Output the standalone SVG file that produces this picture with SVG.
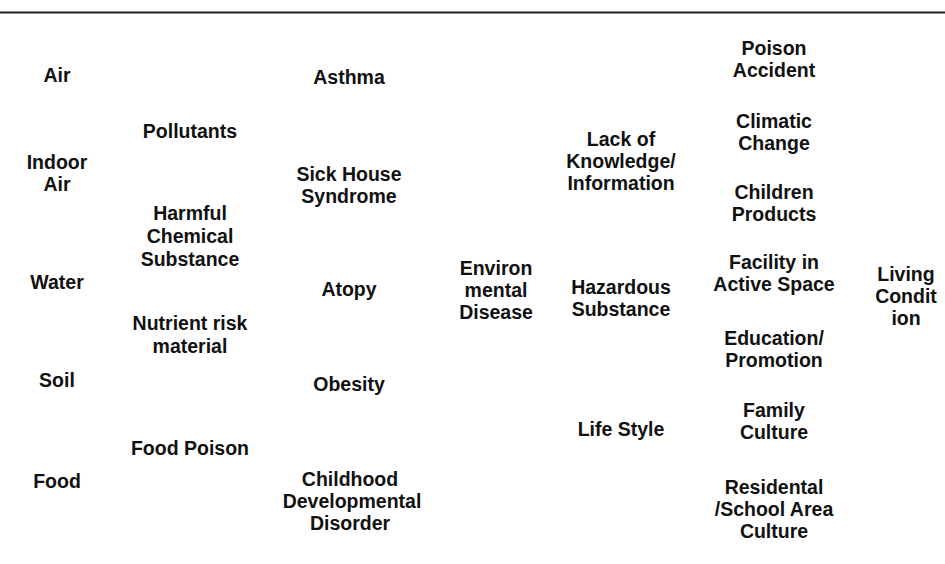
<svg xmlns="http://www.w3.org/2000/svg" width="945" height="564" viewBox="0 0 945 564">
<style>
text{font-family:"Liberation Sans",Arial,sans-serif;font-size:19.5px;font-weight:700;fill:#111;text-anchor:middle}
.rule{stroke:#222;stroke-width:2}
</style>
<rect width="945" height="564" fill="#fff"/>
<line class="rule" x1="0" y1="12.5" x2="945" y2="12.5"/>
<g id="connectors"/>
<g id="air"><text x="57" y="82">Air</text></g>
<g id="indoor-air"><text x="57" y="169">Indoor<tspan x="57" dy="22">Air</tspan></text></g>
<g id="water"><text x="57" y="289">Water</text></g>
<g id="soil"><text x="57" y="387">Soil</text></g>
<g id="food"><text x="57" y="488">Food</text></g>
<g id="pollutants"><text x="190" y="138">Pollutants</text></g>
<g id="harmful"><text x="190" y="220">Harmful<tspan x="190" dy="23">Chemical</tspan><tspan x="190" dy="23">Substance</tspan></text></g>
<g id="nutrient"><text x="190" y="330">Nutrient risk<tspan x="190" dy="23">material</tspan></text></g>
<g id="food-poison"><text x="190" y="455">Food Poison</text></g>
<g id="asthma"><text x="349" y="84">Asthma</text></g>
<g id="sick-house"><text x="349" y="181">Sick House<tspan x="349" dy="22">Syndrome</tspan></text></g>
<g id="atopy"><text x="349" y="296">Atopy</text></g>
<g id="obesity"><text x="349" y="391">Obesity</text></g>
<g id="childhood"><text x="350" y="486">Childhood<tspan x="352" dy="22">Developmental</tspan><tspan x="350" dy="22">Disorder</tspan></text></g>
<g id="env-disease"><text x="496" y="275">Environ<tspan x="496" dy="22">mental</tspan><tspan x="496" dy="22">Disease</tspan></text></g>
<g id="lack-knowledge"><text x="621" y="146">Lack of<tspan x="621" dy="22">Knowledge/</tspan><tspan x="621" dy="22">Information</tspan></text></g>
<g id="hazardous"><text x="621" y="294">Hazardous<tspan x="621" dy="21.5">Substance</tspan></text></g>
<g id="life-style"><text x="621" y="436">Life Style</text></g>
<g id="poison-accident"><text x="774" y="55">Poison<tspan x="774" dy="22">Accident</tspan></text></g>
<g id="climatic"><text x="774" y="128">Climatic<tspan x="774" dy="21.5">Change</tspan></text></g>
<g id="children-products"><text x="774" y="199">Children<tspan x="774" dy="21.5">Products</tspan></text></g>
<g id="facility"><text x="774" y="269">Facility in<tspan x="774" dy="21.5">Active Space</tspan></text></g>
<g id="education"><text x="774" y="345">Education/<tspan x="774" dy="22">Promotion</tspan></text></g>
<g id="family"><text x="774" y="417">Family<tspan x="774" dy="22">Culture</tspan></text></g>
<g id="residental"><text x="774" y="494">Residental<tspan x="774" dy="22">/School Area</tspan><tspan x="774" dy="22">Culture</tspan></text></g>
<g id="living"><text x="906" y="281">Living<tspan x="906" dy="22">Condit</tspan><tspan x="906" dy="22">ion</tspan></text></g>
</svg>
